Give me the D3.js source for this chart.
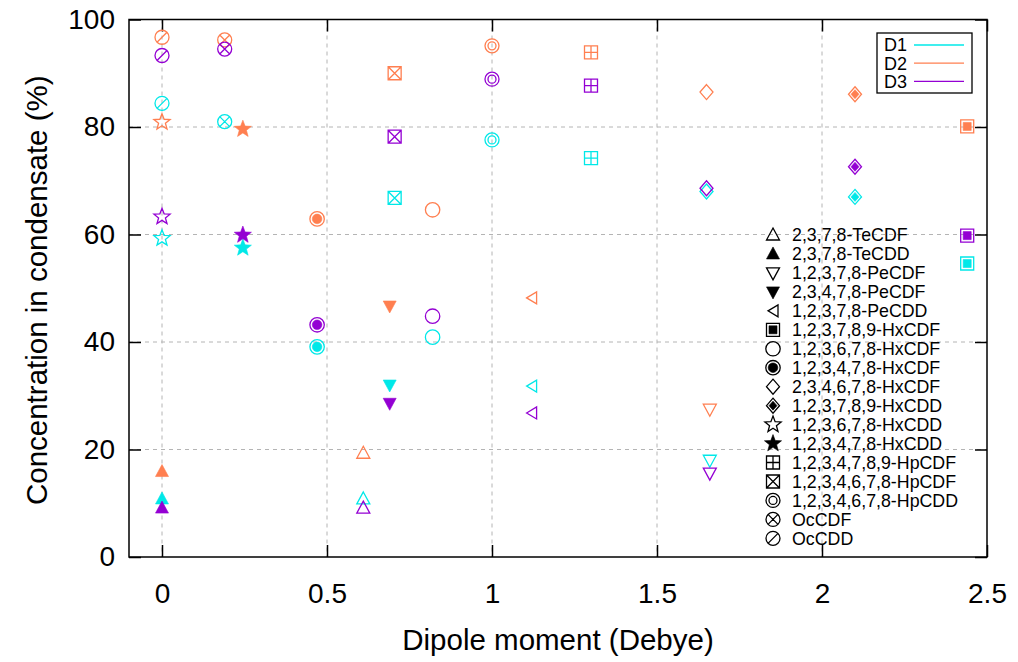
<!DOCTYPE html>
<html>
<head>
<meta charset="utf-8">
<script src="https://cdn.jsdelivr.net/npm/d3@7"></script>
<style>
body { margin: 0; background: #fff; }
text { font-family: "Liberation Sans", Arial, sans-serif; }
</style>
</head>
<body>
<div id="chart"></div>
<script>
// compounds, in legend order
var compounds = ["2,3,7,8-TeCDF", "2,3,7,8-TeCDD", "1,2,3,7,8-PeCDF", "2,3,4,7,8-PeCDF",
    "1,2,3,7,8-PeCDD", "1,2,3,7,8,9-HxCDF", "1,2,3,6,7,8-HxCDF", "1,2,3,4,7,8-HxCDF",
    "2,3,4,6,7,8-HxCDF", "1,2,3,7,8,9-HxCDD", "1,2,3,6,7,8-HxCDD", "1,2,3,4,7,8-HxCDD",
    "1,2,3,4,7,8,9-HpCDF", "1,2,3,4,6,7,8-HpCDF", "1,2,3,4,6,7,8-HpCDD", "OcCDF", "OcCDD"];
// dipole moment (Debye)
var dipole = [0.61, 0, 1.66, 0.69, 1.12, 2.44, 0.82, 0.47, 1.65, 2.1, 0, 0.245, 1.3, 0.705, 1.0, 0.19, 0];
// concentration in condensate (%)
var d1 = [10.8, 10.8, 18.0, 32.0, 31.8, 54.6, 40.9, 39.1, 68.0, 67.0, 59.3, 57.5, 74.2, 66.8, 77.6, 81.0, 84.4];
var d2 = [19.3, 15.9, 27.5, 46.7, 48.2, 80.1, 64.6, 62.9, 86.5, 86.1, 80.9, 79.6, 93.9, 90.0, 95.1, 96.2, 96.7];
var d3v = [9.1, 9.1, 15.6, 28.6, 26.8, 59.8, 44.8, 43.2, 68.6, 72.6, 63.3, 59.9, 87.7, 78.2, 88.9, 94.5, 93.3];
var seriesNames = ["D1", "D2", "D3"];
var xTicks = [0, 0.5, 1, 1.5, 2, 2.5];
var yTicks = [0, 20, 40, 60, 80, 100];

var colors = ["#00e8e8", "#ff7f50", "#9400d3"];
var shapes = ["triUp", "triUpF", "triDown", "triDownF", "triLeft", "sqF", "circ", "circF",
    "diam", "diamF", "star", "starF", "sqPlus", "sqX", "circ2", "circX", "circSlash"];

var W = 1018, H = 662;
var pL = 129, pR = 987, pT = 19.5, pB = 557;

var svg = d3.select("#chart").append("svg").attr("width", W).attr("height", H);
var x = d3.scaleLinear().domain([-0.1, 2.5]).range([pL, pR]);
var y = d3.scaleLinear().domain([0, 100]).range([pB, pT]);

// grid
var grid = svg.append("g").attr("stroke", "#b4b4b4").attr("stroke-dasharray", "4,4").attr("stroke-width", 1);
grid.selectAll(".gx").data(xTicks.filter(function(t) { return t > -0.1 && t < 2.5; })).enter().append("line")
    .attr("x1", function(d) { return x(d); }).attr("x2", function(d) { return x(d); })
    .attr("y1", pT).attr("y2", pB);
grid.selectAll(".gy").data(yTicks.filter(function(t) { return t > 0 && t < 100; })).enter().append("line")
    .attr("x1", pL).attr("x2", pR)
    .attr("y1", function(d) { return y(d); }).attr("y2", function(d) { return y(d); });

// axes, ticks inward
var fmt = function(d) { return String(d); };
svg.append("g").attr("transform", "translate(0," + pB + ")")
    .call(d3.axisBottom(x).tickValues(xTicks).tickFormat(fmt).tickSizeInner(-12).tickSizeOuter(0).tickPadding(26));
svg.append("g").attr("transform", "translate(" + pL + ",0)")
    .call(d3.axisLeft(y).tickValues(yTicks).tickFormat(fmt).tickSizeInner(-12).tickSizeOuter(0).tickPadding(14));
svg.append("g").attr("transform", "translate(0," + pT + ")")
    .call(d3.axisTop(x).tickValues(xTicks).tickFormat("").tickSizeInner(-12).tickSizeOuter(0));
svg.append("g").attr("transform", "translate(" + pR + ",0)")
    .call(d3.axisRight(y).tickValues(yTicks).tickFormat("").tickSizeInner(-12).tickSizeOuter(0));
svg.selectAll(".domain").remove();
svg.selectAll(".tick line").attr("stroke", "#000").attr("stroke-width", 1.5);
svg.selectAll(".tick text").attr("font-size", 28).attr("fill", "#000");

svg.append("rect").attr("x", pL).attr("y", pT).attr("width", pR - pL).attr("height", pB - pT)
    .attr("fill", "none").attr("stroke", "#000").attr("stroke-width", 1.5);

// axis titles
svg.append("text").attr("x", (pL + pR) / 2).attr("y", 650).attr("text-anchor", "middle")
    .attr("font-size", 29.5).text("Dipole moment (Debye)");
svg.append("text").attr("transform", "translate(47," + ((pT + pB) / 2 + 2) + ") rotate(-90)")
    .attr("text-anchor", "middle").attr("font-size", 29.5).text("Concentration in condensate (%)");

function star(r1, r2) {
    var p = d3.range(10).map(function(i) {
        var a = -Math.PI / 2 + i * Math.PI / 5, r = i % 2 ? r2 : r1;
        return [r * Math.cos(a), r * Math.sin(a)];
    });
    return "M" + p.join("L") + "Z";
}
function circlePath(r) {
    return "M" + (-r) + ",0A" + r + "," + r + " 0 1,0 " + r + ",0A" + r + "," + r + " 0 1,0 " + (-r) + ",0Z";
}

function drawSymbol(g, shape, cx, cy, col) {
    var s = g.append("g").attr("transform", "translate(" + cx + "," + cy + ")");
    var line = function(d) { s.append("path").attr("d", d).attr("fill", "none").attr("stroke", col).attr("stroke-width", 1.3); };
    var fill = function(d) { s.append("path").attr("d", d).attr("fill", col).attr("stroke", col).attr("stroke-width", 0.6); };
    switch (shape) {
        case "triUp": line("M0,-7L6.5,5L-6.5,5Z"); break;
        case "triUpF": fill("M0,-7L6.5,5L-6.5,5Z"); break;
        case "triDown": line("M0,7L6.5,-5L-6.5,-5Z"); break;
        case "triDownF": fill("M0,7L6.5,-5L-6.5,-5Z"); break;
        case "triLeft": line("M-5,0L5,-6L5,6Z"); break;
        case "sqF": line("M-6.5,-6.5H6.5V6.5H-6.5Z"); fill("M-4,-4H4V4H-4Z"); break;
        case "circ": line(circlePath(7.2)); break;
        case "circF": line(circlePath(7.2)); fill(circlePath(4.8)); break;
        case "diam": line("M0,-7.5L6.5,0L0,7.5L-6.5,0Z"); break;
        case "diamF": line("M0,-7.5L6.5,0L0,7.5L-6.5,0Z"); fill("M0,-4.5L4,0L0,4.5L-4,0Z"); break;
        case "star": line(star(8.5, 3.6)); break;
        case "starF": fill(star(9, 3.8)); break;
        case "sqPlus": line("M-6.5,-6.5H6.5V6.5H-6.5ZM0,-6.5V6.5M-6.5,0H6.5"); break;
        case "sqX": line("M-6.5,-6.5H6.5V6.5H-6.5ZM-6.5,-6.5L6.5,6.5M6.5,-6.5L-6.5,6.5"); break;
        case "circ2": line(circlePath(7)); line(circlePath(4)); break;
        case "circX": line(circlePath(7) + "M-4.5,-4.5L4.5,4.5M4.5,-4.5L-4.5,4.5"); break;
        case "circSlash": line(circlePath(7) + "M-4.5,4.5L4.5,-4.5"); break;
    }
}

// data points: D1, D2, D3
var seriesData = [d1, d2, d3v];
var pts = svg.append("g");
seriesData.forEach(function(vals, si) {
    vals.forEach(function(v, i) {
        drawSymbol(pts, shapes[i], x(dipole[i]), y(v), colors[si]);
    });
});

// series legend (boxed)
var lg = svg.append("g");
lg.append("rect").attr("x", 877).attr("y", 33).attr("width", 95).attr("height", 60)
    .attr("fill", "#fff").attr("stroke", "#000").attr("stroke-width", 1.3);
seriesNames.forEach(function(n, i) {
    var yy = 45 + i * 18.2;
    lg.append("text").attr("x", 907).attr("y", yy).attr("dy", "0.36em").attr("text-anchor", "end")
        .attr("font-size", 18).text(n);
    lg.append("line").attr("x1", 914).attr("x2", 964).attr("y1", yy).attr("y2", yy)
        .attr("stroke", colors[i]).attr("stroke-width", 1.3);
});

// compound legend (symbols)
var cl = svg.append("g");
compounds.forEach(function(n, i) {
    var yy = 235 + i * 18.96;
    drawSymbol(cl, shapes[i], 773, yy, "#000");
    cl.append("text").attr("x", 792).attr("y", yy).attr("dy", "0.36em").attr("font-size", 17.8).text(n);
});
</script>
</body>
</html>
